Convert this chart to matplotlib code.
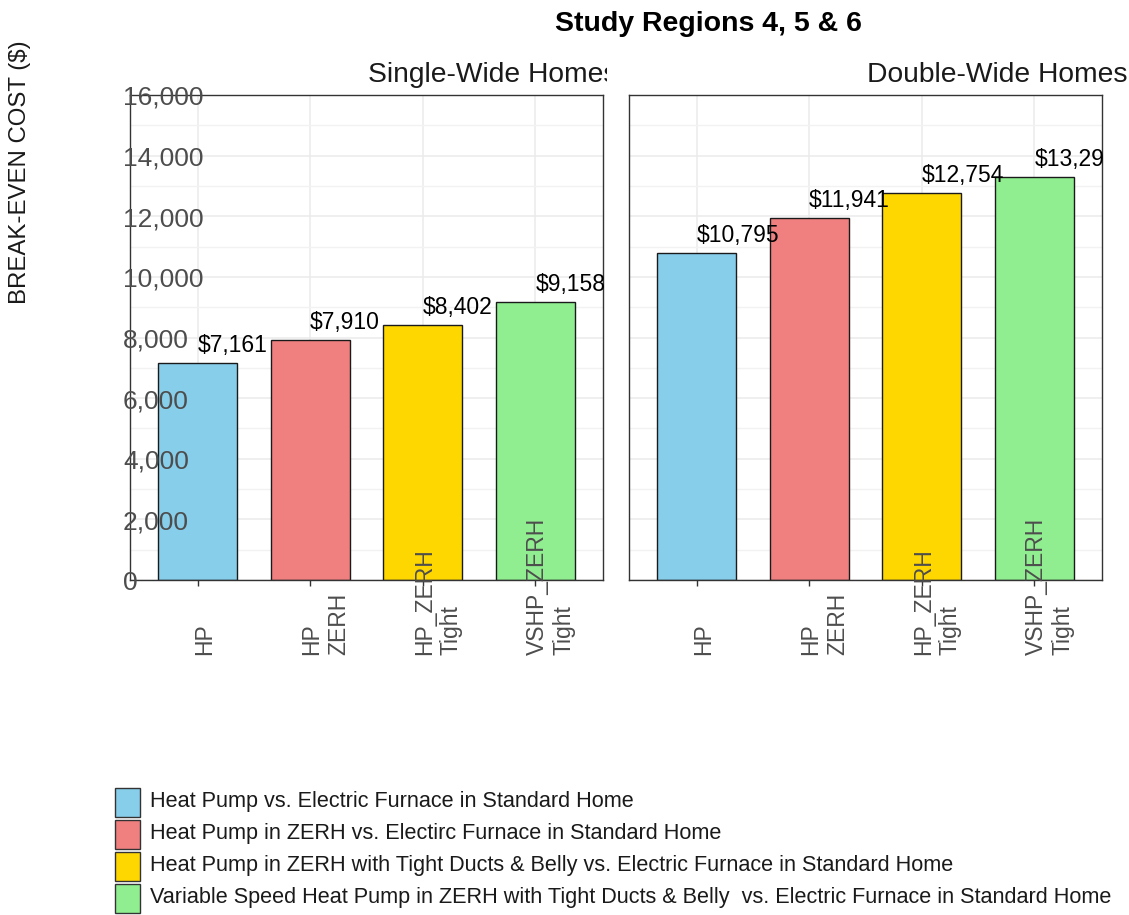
import matplotlib
matplotlib.use("Agg")
import matplotlib.pyplot as plt
from matplotlib.patches import Rectangle
from matplotlib.transforms import Bbox, TransformedBbox, ScaledTranslation, blended_transform_factory

plt.rcParams['font.family'] = ['Liberation Sans', 'DejaVu Sans']

categories = ["HP", "HP\nZERH", "HP_ZERH\nTight", "VSHP_ZERH\nTight"]
single_wide = [7161, 7910, 8402, 9158]
double_wide = [10795, 11941, 12754, 13297]
panel_titles = ["Single-Wide Homes", "Double-Wide Homes"]
colors = ["#87CEEB", "#F08080", "#FFD700", "#90EE90"]
legend_labels = [
    "Heat Pump vs. Electric Furnace in Standard Home",
    "Heat Pump in ZERH vs. Electirc Furnace in Standard Home",
    "Heat Pump in ZERH with Tight Ducts & Belly vs. Electric Furnace in Standard Home",
    "Variable Speed Heat Pump in ZERH with Tight Ducts & Belly  vs. Electric Furnace in Standard Home",
]
yticks = list(range(0, 16001, 2000))
title = "Study Regions 4, 5 & 6"
ylabel = "BREAK-EVEN COST ($)"

W, H = 1129, 915
fig = plt.figure(figsize=(W / 100, H / 100), dpi=100)

def fx(px):
    return px / W

def fy(py):
    return 1 - py / H

panel_px = [(130, 603), (629, 1102)]
top_px, bot_px = 95, 580
axes = []
for i, (x0, x1) in enumerate(panel_px):
    ax = fig.add_axes([fx(x0), fy(bot_px), fx(x1 - x0), (bot_px - top_px) / H])
    axes.append(ax)

tick_gray = "#4D4D4D"
for i, (ax, vals) in enumerate(zip(axes, [single_wide, double_wide])):
    xs = list(range(len(categories)))
    x0, x1 = panel_px[i]
    ax.bar(xs, vals, width=0.7, color=colors, edgecolor="#1a1a1a", linewidth=1.0, zorder=2)
    ax.set_xlim(-0.6, 3.6)
    ax.set_ylim(0, 16000)
    ax.set_yticks(yticks)
    ax.set_yticks(list(range(1000, 16000, 2000)), minor=True)
    ax.set_xticks(xs)
    ax.set_xticklabels([])
    ax.set_yticklabels([])
    ax.grid(True, which="major", color="#EBEBEB", linewidth=1.1, zorder=0)
    ax.grid(True, which="minor", axis="y", color="#F2F2F2", linewidth=1.0, zorder=0)
    ax.set_axisbelow(True)
    ax.tick_params(axis="x", length=4, color="#333333", width=1)
    ax.tick_params(axis="y", which="both", length=0)
    for s in ax.spines.values():
        s.set_color("#333333")
        s.set_linewidth(1.0)
        s.set_zorder(3)
    if i == 0:
        ytrans = blended_transform_factory(ax.transAxes, ax.transData) + \
            ScaledTranslation(0, -0.03, fig.dpi_scale_trans)
        for v in yticks:
            ax.text((123 - 130) / (603 - 130), v, f"{v:,}", fontsize=19, color=tick_gray,
                    ha="left", va="center", transform=ytrans, clip_on=False, zorder=10)
    vclip = TransformedBbox(Bbox([[0, 0], [fx(x1 + 3), 1]]), fig.transFigure)
    for x, v in zip(xs, vals):
        a = ax.annotate(f"${v:,}", xy=(x, v), xytext=(0, 8), textcoords="offset points",
                        ha="left", va="baseline", fontsize=16.5, color="black",
                        annotation_clip=False, zorder=5)
        a.set_clip_box(vclip)
        a.set_clip_on(True)
    # strip titles, left-aligned at panel center, clipped
    cx = (x0 + x1) / 2
    t = fig.text(fx(cx + 2), fy(82), panel_titles[i], fontsize=20.3, color="#1a1a1a",
                 ha="left", va="baseline")
    if i == 0:
        clipb = Bbox([[0, fy(110)], [fx(x1 + 4), 1]])
        t.set_clip_box(TransformedBbox(clipb, fig.transFigure))
        t.set_clip_on(True)

# x tick labels (rotated, multi-line)
fig.canvas.draw()
renderer = fig.canvas.get_renderer()
for ax in axes:
    trans = blended_transform_factory(ax.transData, ax.transAxes)
    ybase = (bot_px - 655) / (bot_px - top_px)
    for x, lab in enumerate(categories):
        t = ax.text(x, ybase, lab, rotation=90, ha="left", va="bottom",
                    multialignment="left", fontsize=16.5, color=tick_gray,
                    linespacing=1.2, transform=trans, clip_on=False, zorder=10)
        bb = t.get_window_extent(renderer)
        dx = -0.2 * bb.width / 100.0
        t.set_transform(trans + ScaledTranslation(dx, 0, fig.dpi_scale_trans))

fig.text(fx(555), fy(31), title, fontsize=20.5, fontweight="bold", ha="left", va="baseline")
fig.text(fx(20), fy(172), ylabel, fontsize=17.3, rotation=90, ha="center", va="center", color="#1a1a1a")

# legend
box_w, box_h = 25, 29
for k, (lab, c) in enumerate(zip(legend_labels, colors)):
    cy = 802 + 32 * k
    fig.patches.append(Rectangle((fx(115), fy(cy + box_h / 2)), box_w / W, box_h / H,
                                 transform=fig.transFigure, facecolor=c,
                                 edgecolor="#333333", linewidth=1.0))
    fig.text(fx(150), fy(cy), lab, fontsize=15.6, ha="left", va="center", color="#1a1a1a")

fig.savefig("out.png", dpi=100)
